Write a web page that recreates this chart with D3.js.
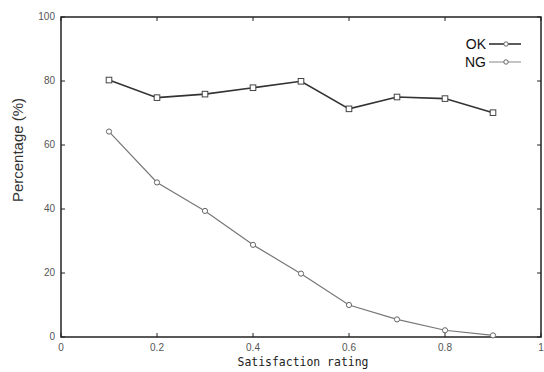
<!DOCTYPE html>
<html>
<head>
<meta charset="utf-8">
<script src="https://cdn.jsdelivr.net/npm/d3@7"></script>
<style>
  body { margin: 0; background: #fff; }
</style>
</head>
<body>
<script>
'use strict';

var width = 544,
    height = 372;

// values
var ratings = [0.1, 0.2, 0.3, 0.4, 0.5, 0.6, 0.7, 0.8, 0.9];
var okValues = [80.3, 74.8, 75.9, 77.9, 79.9, 71.3, 75.0, 74.5, 70.1];
var ngValues = [64.2, 48.3, 39.4, 28.8, 19.8, 10.0, 5.5, 2.1, 0.5];
var xTicks = [0, 0.2, 0.4, 0.6, 0.8, 1];
var yTicks = [0, 20, 40, 60, 80, 100];

var margin = {left: 61, right: 2, top: 17, bottom: 35};

var svg = d3.select("body").append("svg")
    .attr("width", width)
    .attr("height", height)
    .style("font-family", "Arial, 'Liberation Sans', sans-serif");

var x = d3.scaleLinear().domain([0, 1]).range([margin.left, width - margin.right - 1]);
var y = d3.scaleLinear().domain([0, 100]).range([height - margin.bottom, margin.top]);

// ticks, gnuplot style (inward on every side)
var tickLen = 4;
var axes = svg.append("g").attr("stroke", "#222").attr("stroke-width", 1);

axes.selectAll(".xt").data(xTicks).enter().append("line")
    .attr("x1", function(d) { return x(d); })
    .attr("x2", function(d) { return x(d); })
    .attr("y1", y(0))
    .attr("y2", y(0) - tickLen);
axes.selectAll(".xtt").data(xTicks).enter().append("line")
    .attr("x1", function(d) { return x(d); })
    .attr("x2", function(d) { return x(d); })
    .attr("y1", y(100))
    .attr("y2", y(100) + tickLen);
axes.selectAll(".yt").data(yTicks).enter().append("line")
    .attr("x1", x(0))
    .attr("x2", x(0) + tickLen)
    .attr("y1", function(d) { return y(d); })
    .attr("y2", function(d) { return y(d); });
axes.selectAll(".ytr").data(yTicks).enter().append("line")
    .attr("x1", x(1))
    .attr("x2", x(1) - tickLen)
    .attr("y1", function(d) { return y(d); })
    .attr("y2", function(d) { return y(d); });

// frame
svg.append("rect")
    .attr("x", x(0))
    .attr("y", y(100))
    .attr("width", x(1) - x(0))
    .attr("height", y(0) - y(100))
    .attr("fill", "none")
    .attr("stroke", "#222")
    .attr("stroke-width", 1.5);

// tick labels
svg.selectAll(".xl").data(xTicks).enter().append("text")
    .attr("x", function(d) { return x(d); })
    .attr("y", y(0) + 14)
    .attr("text-anchor", "middle")
    .attr("font-size", 10)
    .attr("fill", "#555")
    .text(function(d) { return d3.format("")(d); });

svg.selectAll(".yl").data(yTicks).enter().append("text")
    .attr("x", x(0) - 6)
    .attr("y", function(d) { return y(d) + 3; })
    .attr("text-anchor", "end")
    .attr("font-size", 10)
    .attr("fill", "#555")
    .text(function(d) { return d; });

// axis titles
svg.append("text")
    .attr("x", 303)
    .attr("y", 366)
    .attr("text-anchor", "middle")
    .attr("font-family", "'DejaVu Sans Mono', monospace")
    .attr("font-size", 13)
    .attr("textLength", 131)
    .attr("lengthAdjust", "spacingAndGlyphs")
    .attr("fill", "#222")
    .text("Satisfaction rating");

svg.append("text")
    .attr("transform", "translate(23," + 150 + ") rotate(-90)")
    .attr("text-anchor", "middle")
    .attr("font-size", 15)
    .attr("fill", "#333")
    .text("Percentage (%)");

// series
var okData = ratings.map(function(r, i) { return {x: r, y: okValues[i]}; });
var ngData = ratings.map(function(r, i) { return {x: r, y: ngValues[i]}; });

var line = d3.line()
    .x(function(d) { return x(d.x); })
    .y(function(d) { return y(d.y); });

svg.append("path")
    .datum(ngData)
    .attr("d", line)
    .attr("fill", "none")
    .attr("stroke", "#777")
    .attr("stroke-width", 1.2);

svg.append("path")
    .datum(okData)
    .attr("d", line)
    .attr("fill", "none")
    .attr("stroke", "#333")
    .attr("stroke-width", 1.6);

svg.selectAll(".ngm").data(ngData).enter().append("circle")
    .attr("cx", function(d) { return x(d.x); })
    .attr("cy", function(d) { return y(d.y); })
    .attr("r", 2.6)
    .attr("fill", "#fff")
    .attr("stroke", "#666")
    .attr("stroke-width", 1);

svg.selectAll(".okm").data(okData).enter().append("rect")
    .attr("x", function(d) { return x(d.x) - 2.8; })
    .attr("y", function(d) { return y(d.y) - 2.8; })
    .attr("width", 5.6)
    .attr("height", 5.6)
    .attr("fill", "#fff")
    .attr("stroke", "#444")
    .attr("stroke-width", 1);

// legend
var legend = [
  {name: "OK", color: "#333", w: 1.6},
  {name: "NG", color: "#888", w: 1}
];

var lg = svg.selectAll(".lg").data(legend).enter().append("g")
    .attr("transform", function(d, i) { return "translate(0," + (44 + i * 18) + ")"; });

lg.append("text")
    .attr("x", 486)
    .attr("y", 5)
    .attr("text-anchor", "end")
    .attr("font-size", 14)
    .attr("fill", "#111")
    .text(function(d) { return d.name; });

lg.append("line")
    .attr("x1", 489)
    .attr("x2", 521)
    .attr("y1", 0)
    .attr("y2", 0)
    .attr("stroke", function(d) { return d.color; })
    .attr("stroke-width", function(d) { return d.w; });

lg.append("circle")
    .attr("cx", 506)
    .attr("cy", 0)
    .attr("r", 2.2)
    .attr("fill", "#fff")
    .attr("stroke", "#666");
</script>
</body>
</html>
